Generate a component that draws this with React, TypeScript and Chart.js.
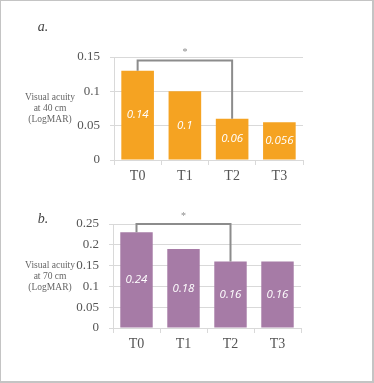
import React, { useEffect, useRef } from "react";
import { Chart, registerables } from "chart.js";

Chart.register(...registerables);

const categories = ["T0", "T1", "T2", "T3"];
const acuity40 = [0.13, 0.1, 0.06, 0.055];
const labels40 = ["0.14", "0.1", "0.06", "0.056"];
const acuity70 = [0.23, 0.19, 0.16, 0.16];
const labels70 = ["0.24", "0.18", "0.16", "0.16"];
const yMax40 = 0.15;
const yMax70 = 0.25;
const yStep = 0.05;
const bracketFrom = 0;
const bracketTo = 2;
const bracketLevel40 = 0.145;
const bracketLevel70 = 0.25;
const title40 = ["Visual acuity", "at 40 cm", "(LogMAR)"];
const title70 = ["Visual acuity", "at 70 cm", "(LogMAR)"];

type PanelProps = {
  panel: string;
  values: number[];
  labels: string[];
  yMax: number;
  bracketLevel: number;
  title: string[];
  color: string;
  height: number;
  pad: { top: number; right: number };
  yWidth: number;
  xHeight: number;
  panelY: number;
};

function Panel(p: PanelProps) {
  const ref = useRef<HTMLCanvasElement | null>(null);
  useEffect(() => {
    if (!ref.current) return;
    const overlay = {
      id: "overlay",
      afterDatasetsDraw(chart: any) {
        const ctx = chart.ctx;
        const meta = chart.getDatasetMeta(0);
        const ys = chart.scales.y;
        const area = chart.chartArea;
        ctx.save();
        // bar labels
        ctx.fillStyle = "#ffffff";
        ctx.font = "italic 11.5px 'Open Sans'";
        ctx.textAlign = "center";
        ctx.textBaseline = "middle";
        meta.data.forEach((bar: any, i: number) => {
          ctx.fillText(p.labels[i], bar.x, (bar.y + bar.base) / 2);
        });
        // bracket
        const b0 = meta.data[bracketFrom];
        const b1 = meta.data[bracketTo];
        const ly = ys.getPixelForValue(p.bracketLevel);
        ctx.strokeStyle = "#8c8c8c";
        ctx.lineWidth = 2;
        ctx.beginPath();
        ctx.moveTo(b0.x, b0.y);
        ctx.lineTo(b0.x, ly);
        ctx.lineTo(b1.x, ly);
        ctx.lineTo(b1.x, b1.y);
        ctx.stroke();
        // star
        ctx.fillStyle = "#8c8c8c";
        ctx.font = "10px 'Liberation Serif'";
        ctx.textBaseline = "alphabetic";
        ctx.fillText("*", (b0.x + b1.x) / 2, ly - 5);
        // panel label
        ctx.fillStyle = "#444444";
        ctx.font = "italic 14px 'Liberation Serif'";
        ctx.textAlign = "center";
        ctx.fillText(p.panel, 43, p.panelY);
        // y title
        ctx.fillStyle = "#666666";
        ctx.font = "9.5px 'Liberation Serif'";
        ctx.textBaseline = "middle";
        const cy = (area.top + area.bottom) / 2;
        p.title.forEach((t, i) => {
          ctx.fillText(t, 50, cy + (i - 1) * 11);
        });
        ctx.restore();
      },
    };
    const chart = new Chart(ref.current, {
      type: "bar",
      data: {
        labels: categories,
        datasets: [
          {
            data: p.values,
            backgroundColor: p.color,
            borderWidth: 0,
            barPercentage: 0.69,
            categoryPercentage: 1,
          },
        ],
      },
      options: {
        responsive: false,
        animation: false,
        events: [],
        layout: { padding: { left: 0, top: p.pad.top, right: p.pad.right, bottom: 0 } },
        plugins: { legend: { display: false }, tooltip: { enabled: false } },
        scales: {
          x: {
            grid: {
              offset: true,
              drawOnChartArea: false,
              drawTicks: true,
              tickLength: 5,
              color: "#d9d9d9",
            },
            border: { display: true, color: "#d9d9d9" },
            ticks: {
              color: "#555555",
              font: { family: "'Liberation Serif'", size: 14 },
              padding: 3,
            },
            afterFit: (s: any) => {
              s.height = p.xHeight;
            },
          },
          y: {
            min: 0,
            max: p.yMax,
            grid: { color: "#d9d9d9", tickLength: 4, drawTicks: true },
            border: { display: true, color: "#d9d9d9" },
            ticks: {
              stepSize: yStep,
              color: "#555555",
              font: { family: "'Liberation Serif'", size: 13 },
              padding: 10,
              callback: (v: any) => String(Math.round(Number(v) * 100) / 100),
            },
            afterFit: (s: any) => {
              s.width = p.yWidth;
            },
          },
        },
      },
      plugins: [overlay],
    });
    return () => chart.destroy();
  }, []);
  return (
    <canvas
      ref={ref}
      width={374}
      height={p.height}
      style={{ display: "block", width: 374, height: p.height }}
    />
  );
}

export default function App() {
  return (
    <div
      style={{
        position: "fixed",
        left: 0,
        top: 0,
        width: 374,
        height: 383,
        background: "#ffffff",
      }}
    >
      <Panel
        panel="a."
        values={acuity40}
        labels={labels40}
        yMax={yMax40}
        bracketLevel={bracketLevel40}
        title={title40}
        color="#F5A322"
        height={190}
        pad={{ top: 57, right: 71 }}
        yWidth={114}
        xHeight={30}
        panelY={31}
      />
      <Panel
        panel="b."
        values={acuity70}
        labels={labels70}
        yMax={yMax70}
        bracketLevel={bracketLevel70}
        title={title70}
        color="#A67BA6"
        height={193}
        pad={{ top: 34, right: 73 }}
        yWidth={113}
        xHeight={55}
        panelY={33}
      />
      <div
        style={{
          position: "absolute",
          left: 0,
          top: 0,
          width: 374,
          height: 383,
          boxSizing: "border-box",
          borderTop: "1px solid #c4c4c4",
          borderLeft: "1px solid #c4c4c4",
          borderRight: "2px solid #c4c4c4",
          borderBottom: "2px solid #c4c4c4",
          pointerEvents: "none",
        }}
      />
    </div>
  );
}
